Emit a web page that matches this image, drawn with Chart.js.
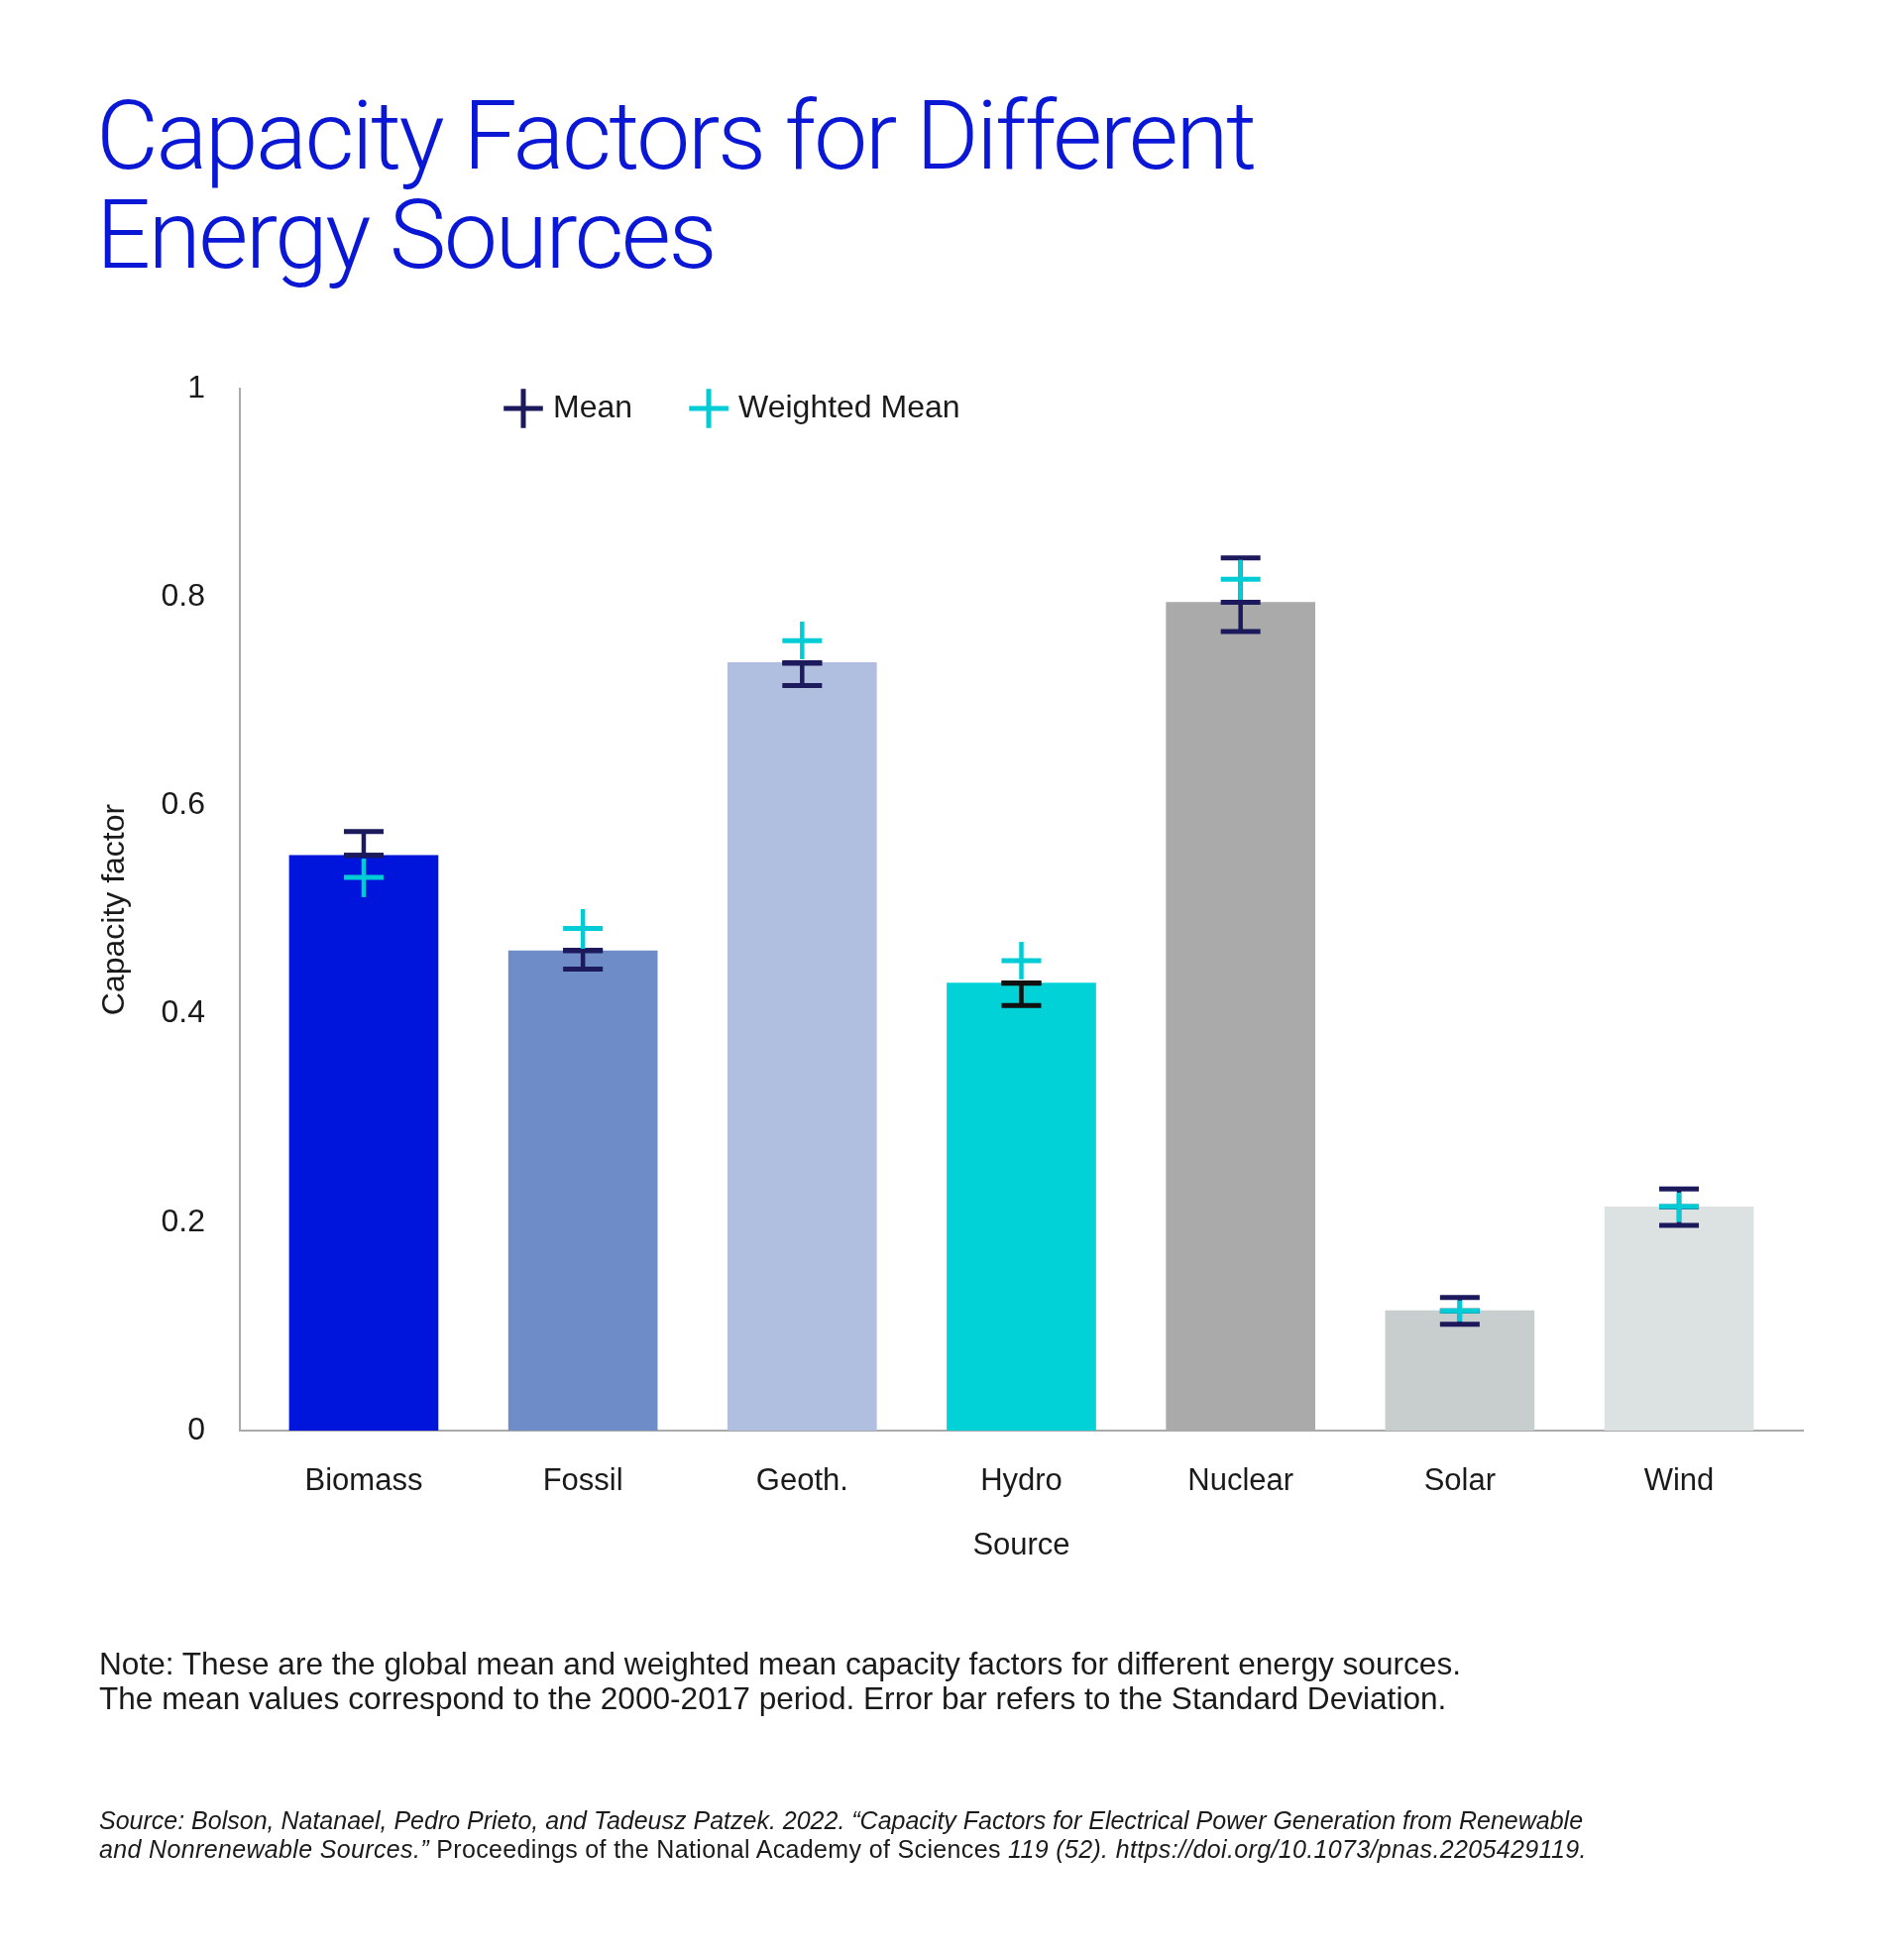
<!DOCTYPE html>
<html>
<head>
<meta charset="utf-8">
<title>Capacity Factors for Different Energy Sources</title>
<script src="https://cdn.jsdelivr.net/npm/chart.js@4.4.0/dist/chart.umd.min.js"></script>
<style>
  html, body { margin: 0; padding: 0; background: #fff; }
  body {
    width: 1920px; height: 1977px; position: relative; overflow: hidden;
    font-family: "Liberation Sans", Arial, sans-serif; color: #1a1a1a;
  }
  #chartBox { position: absolute; left: 0; top: 0; width: 1920px; height: 1977px; }
  .title {
    position: absolute; left: 97px; top: 87px; margin: 0;
    font-family: Roboto, sans-serif; font-weight: 300; font-size: 97px; line-height: 100px;
    color: #0a18d6; letter-spacing: -2.6px; white-space: nowrap;
  }
  .note {
    position: absolute; left: 100px; top: 1661px; margin: 0;
    font-size: 31.6px; line-height: 35px; white-space: nowrap;
  }
  .source {
    position: absolute; left: 100px; top: 1822px; margin: 0;
    font-size: 25px; line-height: 29px; white-space: nowrap; font-style: italic;
  }
  .source .up { font-style: normal; }
  .source .l2 { letter-spacing: 0.35px; }
</style>
</head>
<body>
<div id="chartBox"><canvas id="capacityChart" width="1920" height="1977"></canvas></div>
<h1 class="title">Capacity Factors for Different<br>Energy Sources</h1>
<p class="note">Note: These are the global mean and weighted mean capacity factors for different energy sources.<br>The mean values correspond to the 2000-2017 period. Error bar refers to the Standard Deviation.</p>
<p class="source">Source: Bolson, Natanael, Pedro Prieto, and Tadeusz Patzek. 2022. “Capacity Factors for Electrical Power Generation from Renewable<br><span class="l2">and Nonrenewable Sources.”<span class="up"> Proceedings of the National Academy of Sciences </span>119 (52). https://doi.org/10.1073/pnas.2205429119.</span></p>

<script>
// Datos
const sources = ['Biomass', 'Fossil', 'Geoth.', 'Hydro', 'Nuclear', 'Solar', 'Wind'];
const meanValues = [0.552, 0.4605, 0.737, 0.4296, 0.795, 0.115, 0.2147];
const sdLow = [0.552, 0.443, 0.715, 0.408, 0.767, 0.102, 0.197];
const sdHigh = [0.575, 0.461, 0.7365, 0.4294, 0.8376, 0.1278, 0.2319];
const weightedMean = [0.531, 0.482, 0.758, 0.451, 0.817, 0.115, 0.215];
const weightedLow = [0.512, 0.4624, 0.7403, 0.433, 0.7973, 0.1047, 0.2001];
const weightedHigh = [0.549, 0.5005, 0.7764, 0.469, 0.8357, 0.1249, 0.2284];
const yTicks = [0, 0.2, 0.4, 0.6, 0.8, 1];

// Colores
const NAVY = '#1c1a5c';
const CYAN = '#00ccd6';
const TEXT = '#1a1a1a';
const AXIS = '#aaaaaa';
const barColors = ['#0015dc', '#6e8cc7', '#b0bee0', '#00d2d8', '#aaaaaa', '#c8cdce', '#dce1e2'];
const meanColors = [NAVY, NAVY, NAVY, '#111111', NAVY, NAVY, NAVY];

const FONT = 'Liberation Sans';

// Barras de error: navy debajo de los marcadores, cian encima
const errorBars = {
    id: 'errorBars',
    afterDatasetDraw(chart, args) {
        const xs = chart.scales.x;
        const ys = chart.scales.y;
        const ctx = chart.ctx;
        ctx.save();
        ctx.lineCap = 'butt';
        if (args.index === 0) {
            sources.forEach((s, i) => {
                const px = xs.getPixelForValue(i);
                const top = ys.getPixelForValue(sdHigh[i]);
                const bot = ys.getPixelForValue(sdLow[i]);
                ctx.strokeStyle = meanColors[i];
                ctx.lineWidth = 4.5;
                ctx.beginPath();
                ctx.moveTo(px, top);
                ctx.lineTo(px, bot);
                ctx.stroke();
                ctx.lineWidth = 5;
                ctx.beginPath();
                ctx.moveTo(px - 20, top); ctx.lineTo(px + 20, top);
                ctx.moveTo(px - 20, bot); ctx.lineTo(px + 20, bot);
                ctx.stroke();
            });
        } else if (args.index === 1) {
            sources.forEach((s, i) => {
                const px = xs.getPixelForValue(i);
                ctx.strokeStyle = CYAN;
                ctx.lineWidth = 4.5;
                ctx.beginPath();
                ctx.moveTo(px, ys.getPixelForValue(weightedHigh[i]));
                ctx.lineTo(px, ys.getPixelForValue(weightedLow[i]));
                ctx.stroke();
            });
        }
        ctx.restore();
    }
};

// Leyenda dentro del área de la gráfica
const legendPlacement = {
    id: 'legendPlacement',
    afterInit(chart) {
        const lg = chart.legend;
        const fit = lg.fit;
        lg.fit = function() {
            fit.call(this);
            this.height = 0;
        };
    },
    afterLayout(chart) {
        const lg = chart.legend;
        lg.left = 451;
        lg.right = 1400;
        lg.width = lg.right - lg.left;
        lg.top = 333;
        lg.bottom = 533;
        lg.height = 200;
    }
};

new Chart(document.getElementById('capacityChart').getContext('2d'), {
    type: 'bar',
    data: {
        datasets: [
            {
                type: 'bar',
                label: 'Capacity factor',
                data: meanValues.map((v, i) => ({ x: i, y: v })),
                backgroundColor: barColors,
                borderWidth: 0,
                barThickness: 150,
                order: 3
            },
            {
                type: 'line',
                label: 'Mean',
                data: meanValues.map((v, i) => ({ x: i, y: v })),
                showLine: false,
                pointStyle: 'line',
                pointRadius: 20,
                pointBorderWidth: 5,
                pointBorderColor: meanColors,
                pointBackgroundColor: meanColors,
                clip: false,
                order: 2
            },
            {
                type: 'line',
                label: 'Weighted Mean',
                data: weightedMean.map((v, i) => ({ x: i, y: v })),
                showLine: false,
                pointStyle: 'line',
                pointRadius: 20,
                pointBorderWidth: 5,
                pointBorderColor: CYAN,
                pointBackgroundColor: CYAN,
                clip: false,
                order: 1
            }
        ]
    },
    options: {
        responsive: false,
        animation: false,
        devicePixelRatio: 1,
        layout: {
            padding: { left: 97, right: 101, top: 392, bottom: 394 }
        },
        plugins: {
            tooltip: { enabled: false },
            legend: {
                position: 'top',
                align: 'start',
                labels: {
                    usePointStyle: true,
                    boxWidth: 28,
                    boxHeight: 28,
                    padding: 63,
                    color: TEXT,
                    font: { family: FONT, size: 32 },
                    generateLabels: () => [
                        { text: 'Mean', pointStyle: 'cross', strokeStyle: NAVY, fillStyle: NAVY, fontColor: TEXT, lineWidth: 5, datasetIndex: 1, hidden: false },
                        { text: 'Weighted Mean', pointStyle: 'cross', strokeStyle: CYAN, fillStyle: CYAN, fontColor: TEXT, lineWidth: 5, datasetIndex: 2, hidden: false }
                    ]
                }
            }
        },
        scales: {
            x: {
                type: 'linear',
                position: 'bottom',
                offset: false,
                min: -0.565,
                max: 6.565,
                afterBuildTicks: scale => {
                    scale.ticks = sources.map((s, i) => ({ value: i }));
                },
                afterFit: scale => { scale.height = 140; },
                grid: { display: false, drawTicks: false, offset: false },
                border: { display: true, color: AXIS, width: 2 },
                ticks: {
                    callback: value => sources[value],
                    autoSkip: false,
                    maxRotation: 0,
                    padding: 33,
                    color: TEXT,
                    font: { family: FONT, size: 31 }
                },
                title: {
                    display: true,
                    text: 'Source',
                    color: TEXT,
                    font: { family: FONT, size: 31 },
                    padding: { top: 28, bottom: 5 }
                }
            },
            y: {
                min: 0,
                max: 1,
                afterBuildTicks: scale => {
                    scale.ticks = yTicks.map(v => ({ value: v }));
                },
                afterFit: scale => { scale.width = 145; },
                grid: { display: false, drawTicks: false },
                border: { display: true, color: AXIS, width: 2 },
                ticks: {
                    callback: value => String(value),
                    padding: 35,
                    color: TEXT,
                    font: { family: FONT, size: 32 }
                },
                title: {
                    display: true,
                    text: 'Capacity factor',
                    color: TEXT,
                    font: { family: FONT, size: 32 },
                    padding: { top: 0, bottom: 0 }
                }
            }
        }
    },
    plugins: [errorBars, legendPlacement]
});
</script>
</body>
</html>
